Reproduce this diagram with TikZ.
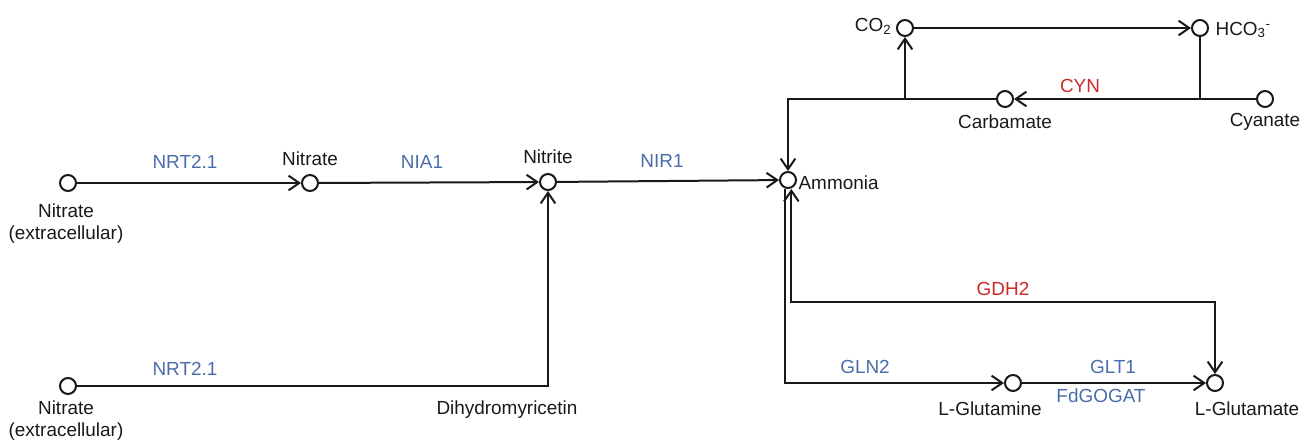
\documentclass[tikz,border=0pt]{standalone}
\usepackage{fontspec}
\setmainfont{Liberation Sans}
\usetikzlibrary{arrows.meta}
\definecolor{enzblue}{RGB}{74,109,170}
\definecolor{enzred}{RGB}{204,41,41}
\definecolor{ink}{RGB}{25,25,25}
\begin{document}
\begin{tikzpicture}[x=0.75pt,y=-0.75pt,
  met/.style={circle,draw=ink,line width=1.5pt,fill=white,minimum size=12pt,inner sep=0pt},
  lab/.style={font=\fontsize{14.2}{16.5}\selectfont,text=ink,inner sep=1pt,align=center},
  blu/.style={font=\fontsize{14.2}{16.5}\selectfont,text=enzblue,inner sep=1pt},
  rd/.style={font=\fontsize{14.2}{16.5}\selectfont,text=enzred,inner sep=1pt},
  conn/.style={draw=ink,line width=1.5pt},
  arr/.style={conn,-{Straight Barb[length=8pt,width=11pt,line width=1.5pt]}},
  biarr/.style={conn,{Straight Barb[length=8pt,width=11pt,line width=1.5pt]}-{Straight Barb[length=8pt,width=11pt,line width=1.5pt]}}]
\useasboundingbox (0,0) rectangle (1307,443);
% metabolites
\node[met] (ne1) at (68,183) {};
\node[met] (nat) at (310,183) {};
\node[met] (nit) at (548,182) {};
\node[met] (amm) at (788,180) {};
\node[met] (co2) at (905,28) {};
\node[met] (hco) at (1200,28) {};
\node[met] (carb) at (1005,99) {};
\node[met] (cyan) at (1265,99) {};
\node[met] (ne2) at (68,386) {};
\node[met] (glm) at (1013,383) {};
\node[met] (glu) at (1215,383) {};
% metabolite labels
\node[lab] (l-ne1) at (66,224) {Nitrate\\(extracellular)};
\node[lab] (l-nat) at (310,159) {Nitrate};
\node[lab] (l-nit) at (548,157) {Nitrite};
\node[lab,anchor=west] (l-amm) at (797,183) {Ammonia};
\node[lab,anchor=east] (l-co2) at (893,26) {CO\textsubscript{2}};
\node[lab,anchor=west] (l-hco) at (1214,30) {HCO\textsubscript{3}\textsuperscript{-}};
\node[lab] (l-carb) at (1005,122) {Carbamate};
\node[lab] (l-cyan) at (1265,122) {Cyanate};
\node[lab] (l-ne2) at (66,421) {Nitrate\\(extracellular)};
\node[lab] (l-dhm) at (507,410) {Dihydromyricetin};
\node[lab] (l-glm) at (990,409) {L-Glutamine};
\node[lab] (l-glu) at (1247,409) {L-Glutamate};
% enzyme labels
\node[blu] (e-nrt1) at (185,162) {NRT2.1};
\node[blu] (e-nia) at (422,162) {NIA1};
\node[blu] (e-nir) at (662,161) {NIR1};
\node[blu] (e-nrt2) at (185,369) {NRT2.1};
\node[rd] (e-cyn) at (1080,86) {CYN};
\node[rd] (e-gdh) at (1003,289) {GDH2};
\node[blu] (e-gln) at (865,367) {GLN2};
\node[blu] (e-glt) at (1113,367) {GLT1};
\node[blu] (e-fd) at (1101,396) {FdGOGAT};
% junctions
\coordinate (c1) at (548,386);
\coordinate (j1) at (788,99);
\coordinate (j2) at (905,99);
\coordinate (j3) at (1200,99);
\coordinate (g1) at (1215,302);
% connectors
\draw[arr] (ne1) -- (nat);
\draw[arr] (nat) -- (nit);
\draw[arr] (nit) -- (amm);
\draw[arr] (ne2) -- (c1) -- (nit);
\draw[arr] (cyan) -- (carb);
\draw[conn] (hco) -- (j3);
\draw[arr] (carb) -- (j1) -- (amm);
\draw[arr] (j2) -- (co2);
\draw[arr] (co2) -- (hco);
\draw[arr] ([xshift=-2.5pt]amm.south) |- (glm);
\draw[biarr] ([xshift=2.5pt]amm.south) |- (g1) -- (glu);
\draw[arr] (glm) -- (glu);
\end{tikzpicture}
\end{document}
